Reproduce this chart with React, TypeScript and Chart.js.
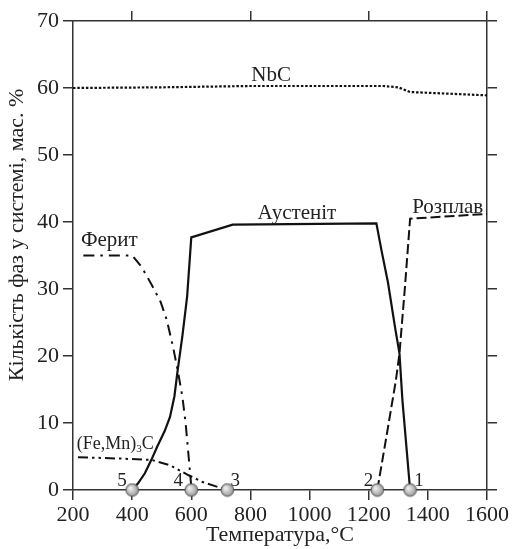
import { useEffect, useRef } from 'react';
import { Chart, registerables } from 'chart.js';

Chart.register(...registerables);

// ---- axis ranges ----
const xMin = 200;
const xMax = 1600;
const xStep = 200;
const yMin = 0;
const yMax = 70;
const yStep = 10;

// ---- series data (temperature °C, mass %) ----
const nbcT = [200, 500, 800, 1000, 1250, 1300, 1340, 1600];
const nbcV = [60.0, 60.1, 60.3, 60.3, 60.3, 60.1, 59.4, 58.9];

const austeniteT = [400, 420, 443, 465, 485, 510, 528, 543, 554, 570, 586, 600, 740, 1226, 1243, 1265, 1290, 1304, 1314, 1340];
const austeniteV = [0, 1, 2.5, 4.5, 6.5, 8.8, 10.9, 14, 17.9, 23, 28.9, 37.7, 39.6, 39.8, 35.8, 31, 24, 20.4, 13.4, 0];

const ferriteT = [235, 400, 432, 464, 496, 517, 538, 554, 570, 581, 591, 600];
const ferriteV = [35, 35, 33.3, 30.8, 28.1, 25.4, 21.4, 17.9, 13.9, 9.9, 5, 0.5];

const cementiteT = [217, 356, 465, 528, 591, 638, 686, 722];
const cementiteV = [4.9, 4.7, 4.5, 3.7, 2.2, 1.2, 0.5, 0];

const liquidT = [1229, 1260, 1292, 1304, 1322, 1340, 1450, 1600];
const liquidV = [0, 8, 16.4, 20.4, 30, 40.5, 40.8, 41.2];

// transformation points (numbered markers on the zero line)
const pointT = [1340, 1229, 722, 600, 400];
const pointV = [0, 0, 0, 0, 0];
const pointNames = ['1', '2', '3', '4', '5'];

// ---- text labels ----
const yTitle = 'Кількість фаз у системі, мас. %';
const xTitle = 'Температура,°C';

type Part = { t: string; sub?: boolean };
type Label = { parts: Part[]; x: number; y: number; size: number };

const phaseLabels: Label[] = [
  { parts: [{ t: 'NbC' }], x: 870, y: 61.9, size: 21 },
  { parts: [{ t: 'Аустеніт' }], x: 957, y: 41.2, size: 21 },
  { parts: [{ t: 'Ферит' }], x: 323, y: 37.3, size: 21 },
  { parts: [{ t: 'Розплав' }], x: 1467, y: 42.1, size: 21 },
  { parts: [{ t: '(Fe,Mn)' }, { t: '3', sub: true }, { t: 'C' }], x: 343, y: 6.9, size: 18 },
];

const pointLabelX = [1370, 1199, 749, 556, 366];
const pointLabelY = 1.35;

const FONT = '"Liberation Serif", "Times New Roman", serif';
const TEXT = '#222';
const AXIS = '#333';

const zip = (xs: number[], ys: number[]) => xs.map((x, i) => ({ x, y: ys[i] }));

function makeMarker(): HTMLCanvasElement {
  const c = document.createElement('canvas');
  c.width = 15;
  c.height = 15;
  const g = c.getContext('2d')!;
  const grad = g.createRadialGradient(5.5, 5.5, 0.5, 7.5, 7.5, 7);
  grad.addColorStop(0, '#f2f2f2');
  grad.addColorStop(0.6, '#b8b8b8');
  grad.addColorStop(1, '#8a8a8a');
  g.beginPath();
  g.arc(7.5, 7.5, 6.3, 0, Math.PI * 2);
  g.fillStyle = grad;
  g.fill();
  g.lineWidth = 1;
  g.strokeStyle = '#555';
  g.stroke();
  return c;
}

const textPlugin = {
  id: 'phaseText',
  afterDatasetsDraw(chart: any) {
    const { ctx, scales } = chart;
    const xs = scales.x;
    const ys = scales.y;
    ctx.save();
    ctx.fillStyle = TEXT;
    ctx.textBaseline = 'middle';

    for (const lab of phaseLabels) {
      const px = xs.getPixelForValue(lab.x);
      const py = ys.getPixelForValue(lab.y);
      const widths = lab.parts.map((p) => {
        ctx.font = `${p.sub ? Math.round(lab.size * 0.6) : lab.size}px ${FONT}`;
        return ctx.measureText(p.t).width;
      });
      const total = widths.reduce((a, b) => a + b, 0);
      let cx = px - total / 2;
      ctx.textAlign = 'left';
      lab.parts.forEach((p, i) => {
        ctx.font = `${p.sub ? Math.round(lab.size * 0.6) : lab.size}px ${FONT}`;
        ctx.fillText(p.t, cx, p.sub ? py + lab.size * 0.28 : py);
        cx += widths[i];
      });
    }

    ctx.textAlign = 'center';
    ctx.font = `19px ${FONT}`;
    pointNames.forEach((n, i) => {
      ctx.fillText(n, xs.getPixelForValue(pointLabelX[i]), ys.getPixelForValue(pointLabelY));
    });

    // y axis title
    ctx.font = `22px ${FONT}`;
    ctx.translate(17, 235);
    ctx.rotate(-Math.PI / 2);
    ctx.textAlign = 'center';
    ctx.fillText(yTitle, 0, 0);
    ctx.restore();
  },
};

export default function App() {
  const ref = useRef<HTMLCanvasElement | null>(null);

  useEffect(() => {
    if (!ref.current) return;
    Chart.defaults.font.family = FONT;
    const marker = makeMarker();
    const lineBase = {
      type: 'line' as const,
      borderColor: '#111',
      borderWidth: 2,
      pointRadius: 0,
      fill: false,
      tension: 0,
    };
    const chart = new Chart(ref.current, {
      type: 'line',
      data: {
        datasets: [
          {
            type: 'scatter',
            label: 'points',
            data: zip(pointT, pointV),
            pointStyle: marker,
            pointRadius: 7,
            showLine: false,
            clip: false,
          } as any,
          { ...lineBase, label: 'NbC', data: zip(nbcT, nbcV), borderDash: [2.5, 1.8], borderWidth: 2.2 },
          { ...lineBase, label: 'Аустеніт', data: zip(austeniteT, austeniteV), borderWidth: 2.2 },
          { ...lineBase, label: 'Ферит', data: zip(ferriteT, ferriteV), borderDash: [11, 6, 2.5, 6] },
          { ...lineBase, label: '(Fe,Mn)3C', data: zip(cementiteT, cementiteV), borderDash: [10, 4, 2.5, 4, 2.5, 4] },
          { ...lineBase, label: 'Розплав', data: zip(liquidT, liquidV), borderDash: [10, 4] },
        ],
      },
      options: {
        animation: false,
        responsive: false,
        devicePixelRatio: 1,
        layout: { padding: 0 },
        plugins: { legend: { display: false }, tooltip: { enabled: false } },
        scales: {
          x: {
            type: 'linear',
            position: 'bottom',
            min: xMin,
            max: xMax,
            ticks: {
              stepSize: xStep,
              color: TEXT,
              font: { size: 22 },
              padding: 2,
              maxRotation: 0,
              autoSkip: false,
              callback: (v: number) => String(v),
            },
            grid: { drawOnChartArea: false, drawTicks: true, tickLength: 10, color: AXIS, lineWidth: 1.5 },
            border: { display: true, color: AXIS, width: 1.5 },
            title: { display: true, text: xTitle, color: TEXT, font: { size: 22 }, padding: { top: 0, bottom: 1 } },
            afterFit: (s: any) => { s.height = 59; },
          },
          x2: {
            type: 'linear',
            position: 'top',
            min: xMin,
            max: xMax,
            ticks: { display: false, stepSize: xStep * 2, includeBounds: false },
            grid: { drawOnChartArea: false, drawTicks: true, tickLength: 10, color: AXIS, lineWidth: 1.5 },
            border: { display: true, color: AXIS, width: 1.5 },
            afterFit: (s: any) => { s.height = 21; },
          },
          y: {
            type: 'linear',
            position: 'left',
            min: yMin,
            max: yMax,
            ticks: { stepSize: yStep, color: TEXT, font: { size: 22 }, padding: 4, callback: (v: number) => String(v) },
            grid: { drawOnChartArea: false, drawTicks: true, tickLength: 10, color: AXIS, lineWidth: 1.5 },
            border: { display: true, color: AXIS, width: 1.5 },
            afterFit: (s: any) => { s.width = 73; },
          },
          y2: {
            type: 'linear',
            position: 'right',
            min: yMin,
            max: yMax,
            ticks: { display: false, stepSize: yStep },
            grid: { drawOnChartArea: false, drawTicks: true, tickLength: 10, color: AXIS, lineWidth: 1.5 },
            border: { display: true, color: AXIS, width: 1.5 },
            afterFit: (s: any) => { s.width = 27; },
          },
        },
      } as any,
      plugins: [textPlugin],
    });
    return () => chart.destroy();
  }, []);

  return (
    <div style={{ position: 'absolute', left: 0, top: 0, width: 514, height: 549, background: '#fff' }}>
      <canvas ref={ref} width={514} height={549} style={{ width: 514, height: 549 }} />
    </div>
  );
}
